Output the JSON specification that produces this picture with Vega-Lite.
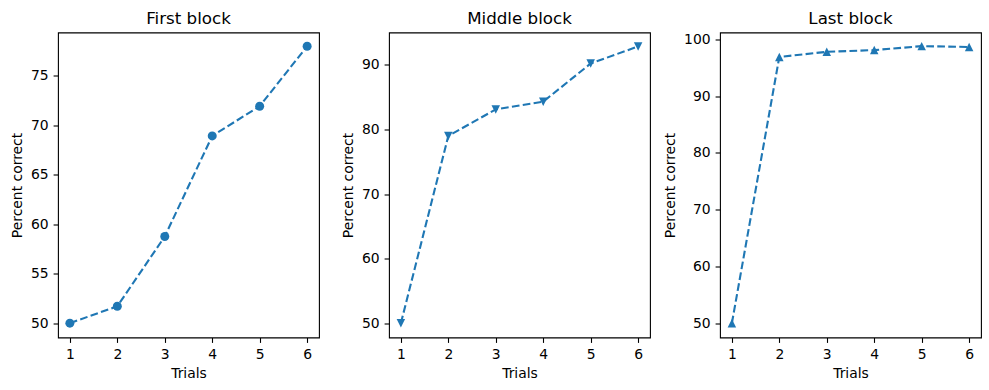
{
  "$schema": "https://vega.github.io/schema/vega-lite/v6.json",
  "background": "white",
  "padding": {"left": 9, "top": 10.5, "right": 5, "bottom": 5},
  "data": {"values": [
    {"block": "First block", "trial": 1, "pct": 50.0},
    {"block": "First block", "trial": 2, "pct": 51.7},
    {"block": "First block", "trial": 3, "pct": 58.75},
    {"block": "First block", "trial": 4, "pct": 68.9},
    {"block": "First block", "trial": 5, "pct": 71.9},
    {"block": "First block", "trial": 6, "pct": 77.95},
    {"block": "Middle block", "trial": 1, "pct": 50.0},
    {"block": "Middle block", "trial": 2, "pct": 79.0},
    {"block": "Middle block", "trial": 3, "pct": 83.1},
    {"block": "Middle block", "trial": 4, "pct": 84.3},
    {"block": "Middle block", "trial": 5, "pct": 90.2},
    {"block": "Middle block", "trial": 6, "pct": 92.85},
    {"block": "Last block", "trial": 1, "pct": 50.0},
    {"block": "Last block", "trial": 2, "pct": 96.9},
    {"block": "Last block", "trial": 3, "pct": 97.8},
    {"block": "Last block", "trial": 4, "pct": 98.1},
    {"block": "Last block", "trial": 5, "pct": 98.8},
    {"block": "Last block", "trial": 6, "pct": 98.65}
  ]},
  "bounds": "flush",
  "spacing": 70,
  "config": {
    "font": "DejaVu Sans",
    "view": {"stroke": "black", "strokeWidth": 1.1},
    "axis": {"grid": false, "domain": false, "tickColor": "black", "tickSize": 4.9, "tickWidth": 1.1, "labelColor": "black", "labelFontSize": 13.9, "labelFont": "DejaVu Sans", "titleFont": "DejaVu Sans", "titleFontSize": 13.9, "titleFontWeight": "normal", "titleColor": "black", "labelPadding": 5},
    "axisX": {"titlePadding": 5, "labelAngle": 0},
    "axisY": {"titlePadding": 6},
    "title": {"fontSize": 16.7, "fontWeight": "normal", "color": "black", "font": "DejaVu Sans", "offset": 4.5, "baseline": "alphabetic"}
  },
  "hconcat": [
    {
      "title": "First block",
      "width": 261, "height": 305,
      "transform": [{"filter": "datum.block == 'First block'"}],
      "mark": {"type": "line", "color": "#1f77b4", "strokeWidth": 2.1, "strokeDash": [7.7, 3.3], "point": {"shape": "circle", "size": 81, "filled": true, "color": "#1f77b4", "opacity": 1}},
      "encoding": {
        "x": {"field": "trial", "type": "quantitative", "scale": {"domain": [0.75, 6.25], "nice": false, "zero": false}, "axis": {"values": [1, 2, 3, 4, 5, 6], "title": "Trials", "format": "d"}},
        "y": {"field": "pct", "type": "quantitative", "scale": {"domain": [48.55, 79.34], "nice": false, "zero": false}, "axis": {"values": [50, 55, 60, 65, 70, 75], "title": "Percent correct"}}
      }
    },
    {
      "title": "Middle block",
      "width": 261, "height": 305,
      "transform": [{"filter": "datum.block == 'Middle block'"}],
      "mark": {"type": "line", "color": "#1f77b4", "strokeWidth": 2.1, "strokeDash": [7.7, 3.3], "point": {"shape": "M-1,-1L1,-1L0,1Z", "size": 72, "filled": true, "color": "#1f77b4", "opacity": 1}},
      "encoding": {
        "x": {"field": "trial", "type": "quantitative", "scale": {"domain": [0.75, 6.25], "nice": false, "zero": false}, "axis": {"values": [1, 2, 3, 4, 5, 6], "title": "Trials", "format": "d"}},
        "y": {"field": "pct", "type": "quantitative", "scale": {"domain": [47.8, 95.0], "nice": false, "zero": false}, "axis": {"values": [50, 60, 70, 80, 90], "title": "Percent correct"}}
      }
    },
    {
      "title": "Last block",
      "width": 261, "height": 305,
      "transform": [{"filter": "datum.block == 'Last block'"}],
      "mark": {"type": "line", "color": "#1f77b4", "strokeWidth": 2.1, "strokeDash": [7.7, 3.3], "point": {"shape": "M0,-1L1,1L-1,1Z", "size": 72, "filled": true, "color": "#1f77b4", "opacity": 1}},
      "encoding": {
        "x": {"field": "trial", "type": "quantitative", "scale": {"domain": [0.75, 6.25], "nice": false, "zero": false}, "axis": {"values": [1, 2, 3, 4, 5, 6], "title": "Trials", "format": "d"}},
        "y": {"field": "pct", "type": "quantitative", "scale": {"domain": [47.5, 101.2], "nice": false, "zero": false}, "axis": {"values": [50, 60, 70, 80, 90, 100], "title": "Percent correct"}}
      }
    }
  ]
}
